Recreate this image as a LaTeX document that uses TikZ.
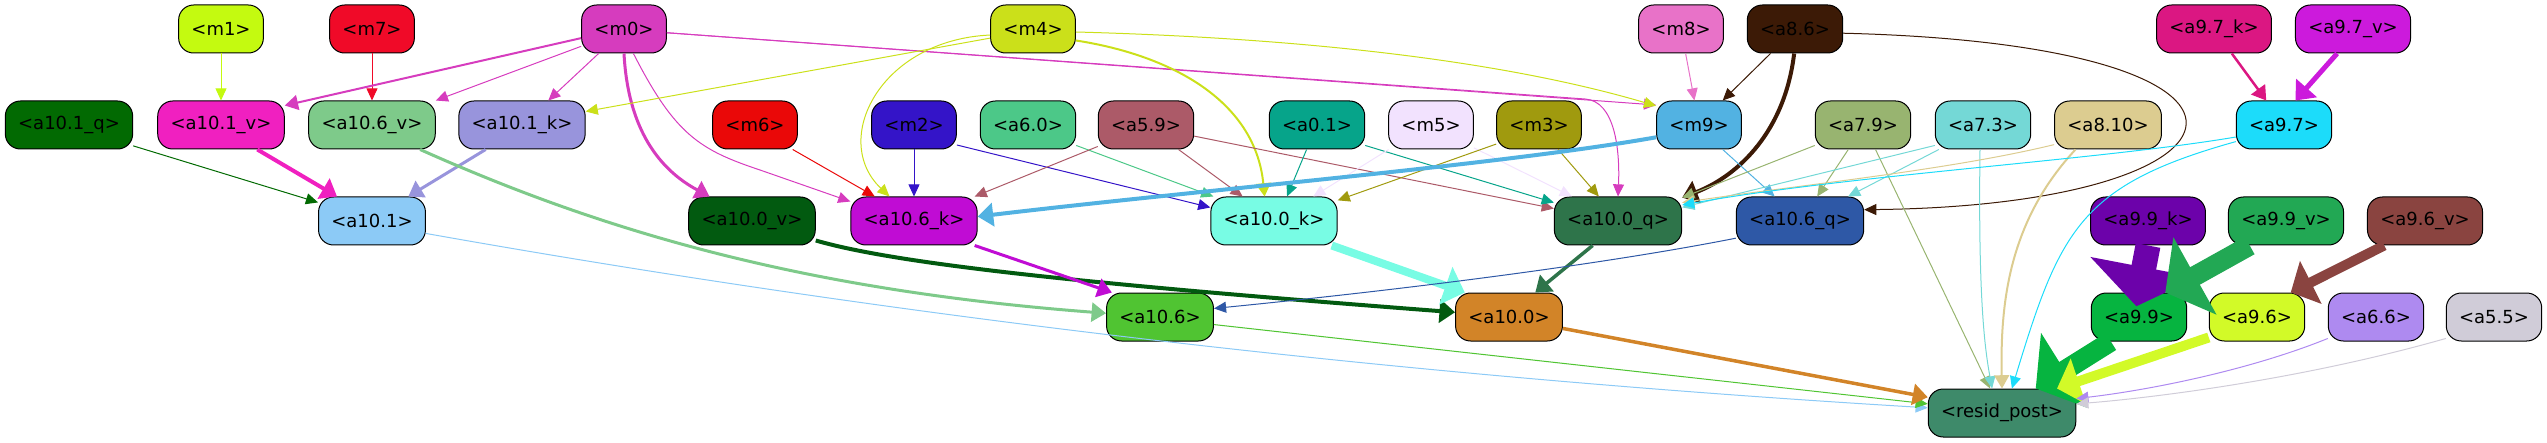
\documentclass[tikz,border=0pt]{standalone}
\usepackage{fontspec}
\setmainfont{DejaVu Sans}
\usepackage{tikz}
\usetikzlibrary{arrows.meta}
\newcommand{\blkheight}{24pt}
\newcommand{\blkradius}{7.5pt}
\definecolor{cm0}{HTML}{D63CBE}
\definecolor{cm1}{HTML}{C4FA10}
\definecolor{cm2}{HTML}{3414C8}
\definecolor{cm3}{HTML}{A09A0E}
\definecolor{cm4}{HTML}{CBE01A}
\definecolor{cm5}{HTML}{F2E2FE}
\definecolor{cm6}{HTML}{EA0808}
\definecolor{cm7}{HTML}{F00A28}
\definecolor{cm8}{HTML}{E872C8}
\definecolor{cm9}{HTML}{52B2E2}
\definecolor{ca86}{HTML}{3C1A06}
\definecolor{ca97k}{HTML}{DB1782}
\definecolor{ca97v}{HTML}{CC1ADC}
\definecolor{ca97}{HTML}{1CDCFA}
\definecolor{ca101q}{HTML}{026A02}
\definecolor{ca101v}{HTML}{F020C0}
\definecolor{ca101k}{HTML}{9894DC}
\definecolor{ca101}{HTML}{8CCAF6}
\definecolor{ca106v}{HTML}{7ECA8A}
\definecolor{ca106k}{HTML}{C00CD4}
\definecolor{ca106q}{HTML}{2E58A6}
\definecolor{ca106}{HTML}{50C432}
\definecolor{ca100v}{HTML}{025A10}
\definecolor{ca100k}{HTML}{78FCE4}
\definecolor{ca100q}{HTML}{2E744A}
\definecolor{ca100}{HTML}{D28428}
\definecolor{ca60}{HTML}{4CC888}
\definecolor{ca59}{HTML}{AC5A68}
\definecolor{ca01}{HTML}{06A48A}
\definecolor{ca79}{HTML}{98B470}
\definecolor{ca73}{HTML}{74D8D6}
\definecolor{ca810}{HTML}{DCCC90}
\definecolor{ca99k}{HTML}{6C02AA}
\definecolor{ca99v}{HTML}{22A854}
\definecolor{ca96v}{HTML}{8A4440}
\definecolor{ca99}{HTML}{06B440}
\definecolor{ca96}{HTML}{D2FA28}
\definecolor{ca66}{HTML}{AE8AF0}
\definecolor{ca55}{HTML}{D0CCD8}
\definecolor{cresid}{HTML}{3E8A6A}
\tikzstyle{blk}=[draw, rounded corners=\blkradius, minimum height=\blkheight, inner xsep=6.4pt, inner ysep=0, line width=0.5pt, font=\fontsize{9}{11}\selectfont]
\tikzstyle{lnk}=[-{Triangle[length=5.5pt 1.15, width=3.5pt 4]}, line width=0.5pt]
\tikzstyle{layerflow}=[x=0.5pt, y=-0.5pt,
                       % pixel grid of the layout, y pointing down
                       every node/.style={text=black}]
\begin{document}
\begin{tikzpicture}[layerflow]
    \useasboundingbox (0,0) rectangle (2547,443);
    \node[blk, fill=cm1] (m1) at (221,29) {<m1>};
    \node[blk, fill=cm7] (m7) at (372,29) {<m7>};
    \node[blk, fill=cm0] (m0) at (624,29) {<m0>};
    \node[blk, fill=cm4] (m4) at (1033,29) {<m4>};
    \node[blk, fill=cm8] (m8) at (1681,29) {<m8>};
    \node[blk, fill=ca86] (a86) at (1795,29) {<a8.6>};
    \node[blk, fill=ca97k] (a97k) at (2214,29) {<a9.7\_k>};
    \node[blk, fill=ca97v] (a97v) at (2353,29) {<a9.7\_v>};
    \node[blk, fill=ca101q] (a101q) at (69,125) {<a10.1\_q>};
    \node[blk, fill=ca101v] (a101v) at (221,125) {<a10.1\_v>};
    \node[blk, fill=ca106v] (a106v) at (372,125) {<a10.6\_v>};
    \node[blk, fill=ca101k] (a101k) at (522,125) {<a10.1\_k>};
    \node[blk, fill=cm6] (m6) at (755,125) {<m6>};
    \node[blk, fill=cm2] (m2) at (914,125) {<m2>};
    \node[blk, fill=ca60] (a60) at (1028,125) {<a6.0>};
    \node[blk, fill=ca59] (a59) at (1146,125) {<a5.9>};
    \node[blk, fill=ca01] (a01) at (1317,125) {<a0.1>};
    \node[blk, fill=cm5] (m5) at (1431,125) {<m5>};
    \node[blk, fill=cm3] (m3) at (1539,125) {<m3>};
    \node[blk, fill=cm9] (m9) at (1699,125) {<m9>};
    \node[blk, fill=ca79] (a79) at (1863,125) {<a7.9>};
    \node[blk, fill=ca73] (a73) at (1983,125) {<a7.3>};
    \node[blk, fill=ca810] (a810) at (2108,125) {<a8.10>};
    \node[blk, fill=ca97] (a97) at (2284,125) {<a9.7>};
    \node[blk, fill=ca101] (a101) at (372,221) {<a10.1>};
    \node[blk, fill=ca100v] (a100v) at (752,221) {<a10.0\_v>};
    \node[blk, fill=ca106k] (a106k) at (914,221) {<a10.6\_k>};
    \node[blk, fill=ca100k] (a100k) at (1274,221) {<a10.0\_k>};
    \node[blk, fill=ca100q] (a100q) at (1618,221) {<a10.0\_q>};
    \node[blk, fill=ca106q] (a106q) at (1800,221) {<a10.6\_q>};
    \node[blk, fill=ca99k] (a99k) at (2148,221) {<a9.9\_k>};
    \node[blk, fill=ca99v] (a99v) at (2286,221) {<a9.9\_v>};
    \node[blk, fill=ca96v] (a96v) at (2425,221) {<a9.6\_v>};
    \node[blk, fill=ca106] (a106) at (1160,317) {<a10.6>};
    \node[blk, fill=ca100] (a100) at (1509,317) {<a10.0>};
    \node[blk, fill=ca99] (a99) at (2139,317) {<a9.9>};
    \node[blk, fill=ca96] (a96) at (2257,317) {<a9.6>};
    \node[blk, fill=ca66] (a66) at (2376,317) {<a6.6>};
    \node[blk, fill=ca55] (a55) at (2494,317) {<a5.5>};
    \node[blk, fill=cresid] (resid) at (2002,413) {<resid\_post>};
    \draw[lnk, cm1] (m1) -- (a101v);
    \draw[lnk, cm7] (m7) -- (a106v);
    \draw[lnk, cm0, line width=1pt] (m0.192) -- (a101v.17);
    \draw[lnk, cm0] (m0.202) -- (a106v.21);
    \draw[lnk, cm0] (m0.224) -- (a101k.43);
    \draw[lnk, cm0, line width=1.5pt] (m0.south) .. controls (628,130) and (660,170) .. (a100v.150);
    \draw[lnk, cm0] (m0.291) .. controls (675,135) and (700,150) .. (760,170) -- (a106k.163);
    \draw[lnk, cm0] (m0.355) .. controls (1100,64) .. (1585,99) .. controls (1615,101) and (1620,150) .. (a100q.north);
    \draw[lnk, cm0] (m0.355) -- (m9.155);
    \draw[lnk, cm4] (m4.192) -- (a101k.12);
    \draw[lnk, cm4] (m4.188) .. controls (880,40) and (830,140) .. (a106k.135);
    \draw[lnk, cm4, line width=1pt] (m4.345) .. controls (1170,55) and (1255,100) .. (a100k.111);
    \draw[lnk, cm4] (m4.356) .. controls (1300,38) and (1500,60) .. (m9.156);
    \draw[lnk, cm6] (m6.327) -- (a106k.148);
    \draw[lnk, cm2] (m2) -- (a106k);
    \draw[lnk, cm2] (m2.335) -- (a100k.168);
    \draw[lnk, ca60] (a60.337) -- (a100k.158);
    \draw[lnk, ca59] (a59.204) -- (a106k.22);
    \draw[lnk, ca59] (a59.323) -- (a100k.142);
    \draw[lnk, ca59] (a59.347) -- (a100q.169);
    \draw[lnk, ca01] (a01.247) -- (a100k.62);
    \draw[lnk, ca01] (a01.337) -- (a100q.164);
    \draw[lnk, cm5] (m5.210) -- (a100k.32);
    \draw[lnk, cm5] (m5.332) -- (a100q.152);
    \draw[lnk, cm3] (m3.204) -- (a100k.18);
    \draw[lnk, cm3] (m3.308) -- (a100q.128);
    \draw[lnk, cm8] (m8) -- (m9);
    \draw[lnk, ca86] (a86.225) -- (m9.46);
    \draw[lnk, ca86, line width=2pt] (a86.268) .. controls (1785,130) and (1740,175) .. (a100q.20);
    \draw[lnk, ca86] (a86.355) .. controls (2320,45) and (2270,205) .. (a106q.10);
    \draw[lnk, cm9, line width=2pt] (m9.196) .. controls (1500,165) and (1200,190) .. (a106k.4);
    \draw[lnk, cm9] (m9.314) -- (a106q.136);
    \draw[lnk, ca79] (a79.203) -- (a100q.20);
    \draw[lnk, ca79] (a79.239) -- (a106q.55);
    \draw[lnk, ca79] (a79.297) -- (resid.116);
    \draw[lnk, ca73] (a73.203) -- (a100q.12);
    \draw[lnk, ca73] (a73.209) -- (a106q.27);
    \draw[lnk, ca73] (a73.263) .. controls (1978,300) and (1985,350) .. (resid.112);
    \draw[lnk, ca810] (a810.200) .. controls (1950,170) and (1800,185) .. (a100q.16);
    \draw[lnk, ca810, line width=1pt] (a810.217) .. controls (2010,220) and (2000,300) .. (resid.north);
    \draw[lnk, ca97] (a97.194) .. controls (2100,160) and (1850,175) .. (a100q.14);
    \draw[lnk, ca97] (a97.199) .. controls (2080,185) and (2060,230) .. (resid.68);
    \draw[lnk, ca97k, line width=1.25pt] (a97k.306) -- (a97.126);
    \draw[lnk, ca97v, line width=2.5pt] (a97v.237) -- (a97.65);
    \draw[lnk, ca101q] (a101q.342) -- (a101.161);
    \draw[lnk, ca101v, line width=2pt] (a101v.326) -- (a101.145);
    \draw[lnk, ca101k, line width=1.5pt] (a101k.214) -- (a101.34);
    \draw[lnk, ca106v, line width=1.5pt] (a106v.333) .. controls (600,230) and (800,290) .. (a106.176);
    \draw[lnk, ca101] (a101.347) .. controls (800,300) and (1300,370) .. (resid.176);
    \draw[lnk, ca100v, line width=2pt] (a100v.343) .. controls (900,265) and (1100,285) .. (a100.175);
    \draw[lnk, ca106k, line width=1.5pt] (a106k.338) -- (a106.153);
    \draw[lnk, ca100k, line width=4pt] (a100k.337) -- (a100.151);
    \draw[lnk, ca100q, line width=1.75pt] (a100q.224) -- (a100.43);
    \draw[lnk, ca106q] (a106q.195) .. controls (1600,265) and (1400,290) .. (a106.9);
    \draw[lnk, ca106] (a106.352) -- (resid.173);
    \draw[lnk, ca100, line width=1.75pt] (a100.348) -- (resid.168);
    \draw[lnk, ca99k, line width=12.5pt, shorten >=-7pt] (a99k.south) -- (a99.north);
    \draw[lnk, ca99v, line width=10pt] (a99v.214) -- (a99.43);
    \draw[lnk, ca96v, line width=5pt] (a96v.211) -- (a96.36);
    \draw[lnk, ca99, line width=10pt] (a99.221) -- (resid.36);
    \draw[lnk, ca96, line width=5pt] (a96.203) -- (resid.24);
    \draw[lnk, ca66] (a66.204) .. controls (2250,370) and (2150,390) .. (resid.11);
    \draw[lnk, ca55] (a55.204) .. controls (2300,380) and (2150,398) .. (resid.7);
\end{tikzpicture}
\end{document}
